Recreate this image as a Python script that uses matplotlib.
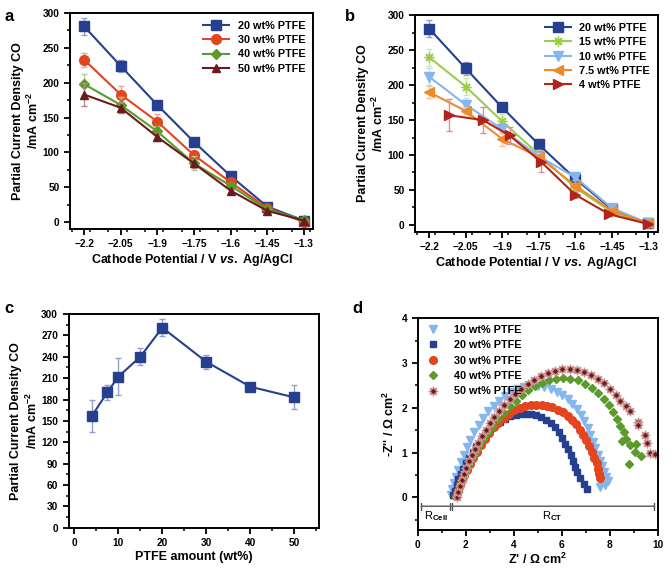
import matplotlib
matplotlib.use('Agg')
import matplotlib.pyplot as plt
from matplotlib.ticker import MultipleLocator
from matplotlib.colors import to_rgb

plt.rcParams['font.family'] = ['Liberation Sans', 'DejaVu Sans']
plt.rcParams['font.weight'] = 'bold'
plt.rcParams['axes.labelweight'] = 'bold'
plt.rcParams['mathtext.fontset'] = 'custom'
plt.rcParams['mathtext.rm'] = 'Liberation Sans:bold'
plt.rcParams['mathtext.it'] = 'Liberation Sans:italic:bold'
plt.rcParams['mathtext.bf'] = 'Liberation Sans:bold'
plt.rcParams['mathtext.sf'] = 'Liberation Sans'

# ---- data: panel a / b (partial current density CO, mA cm-2) ----
potentials = [-2.2, -2.05, -1.9, -1.75, -1.6, -1.45, -1.3]
potential_labels = ['\u22122.2', '\u22122.05', '\u22121.9', '\u22121.75', '\u22121.6', '\u22121.45', '\u22121.3']
pot_4wt = [-2.12, -1.98, -1.87, -1.74, -1.6, -1.46, -1.3]

j_20 = [281, 224, 168, 115, 66, 22, 2]
e_20 = [12, 9, 4, 3, 3, 2, 2]
j_30 = [233, 183, 144, 96, 57, 20, 0]
e_30 = [10, 12, 11, 5, 4, 2, 1]
j_40 = [198, 168, 130, 84, 52, 18, 3]
e_40 = [15, 12, 8, 10, 4, 2, 1]
j_50 = [183, 164, 122, 84, 45, 16, 2]
e_50 = [17, 8, 6, 6, 3, 2, 1]
j_15 = [240, 198, 148, 101, 53, 18, 1]
e_15 = [12, 12, 10, 6, 4, 2, 1]
j_10 = [212, 172, 137, 98, 68, 24, 2]
e_10 = [12, 10, 6, 4, 4, 2, 1]
j_7p5 = [190, 163, 123, 97, 56, 20, 2]
e_7p5 = [9, 5, 10, 6, 4, 2, 1]
j_4 = [157, 150, 128, 90, 43, 15, 1]
e_4 = [23, 19, 12, 15, 4, 2, 1]

# ---- data: panel c ----
ptfe_amount = [4, 7.5, 10, 15, 20, 30, 40, 50]
j_max = [157, 190, 212, 240, 281, 233, 198, 183]
j_max_err = [23, 10, 26, 12, 12, 10, 3, 17]

# ---- data: panel d (Nyquist, Z' and -Z'' in ohm cm2) ----
zr_10 = [1.40, 1.45, 1.52, 1.60, 1.70, 1.80, 1.92, 2.05, 2.20, 2.36, 2.54, 2.74, 2.95, 3.17,
         3.40, 3.64, 3.90, 4.17, 4.45, 4.73, 5.01, 5.28, 5.54, 5.79, 6.03, 6.25, 6.45, 6.63,
         6.80, 6.95, 7.08, 7.20, 7.31, 7.41, 7.50, 7.59, 7.70, 7.78, 7.86, 7.93, 7.82, 7.62]
zi_10 = [0.05, 0.18, 0.32, 0.46, 0.62, 0.78, 0.95, 1.12, 1.29, 1.46, 1.62, 1.78, 1.92, 2.05,
         2.16, 2.26, 2.35, 2.42, 2.47, 2.49, 2.49, 2.46, 2.41, 2.35, 2.28, 2.19, 2.09, 1.97,
         1.84, 1.70, 1.55, 1.40, 1.24, 1.09, 0.95, 0.82, 0.70, 0.57, 0.45, 0.36, 0.27, 0.24]
zr_20 = [1.48, 1.55, 1.62, 1.70, 1.80, 1.90, 2.02, 2.15, 2.30, 2.45, 2.62, 2.80, 3.00, 3.20,
         3.42, 3.64, 3.86, 4.08, 4.30, 4.52, 4.74, 4.95, 5.15, 5.35, 5.55, 5.72, 5.88, 6.02,
         6.15, 6.27, 6.38, 6.48, 6.57, 6.66, 6.78, 6.92, 7.05]
zi_20 = [0.05, 0.15, 0.28, 0.40, 0.52, 0.63, 0.76, 0.88, 1.02, 1.14, 1.26, 1.38, 1.50, 1.60,
         1.69, 1.76, 1.81, 1.84, 1.86, 1.86, 1.85, 1.83, 1.79, 1.73, 1.65, 1.56, 1.45, 1.33,
         1.20, 1.07, 0.94, 0.81, 0.68, 0.56, 0.42, 0.30, 0.18]
zr_30 = [1.60, 1.68, 1.76, 1.85, 1.95, 2.06, 2.18, 2.32, 2.47, 2.63, 2.80, 2.98, 3.17, 3.37,
         3.58, 3.80, 4.02, 4.25, 4.48, 4.71, 4.94, 5.17, 5.40, 5.62, 5.84, 6.05, 6.25, 6.43,
         6.60, 6.75, 6.90, 7.03, 7.15, 7.27, 7.37, 7.46, 7.53, 7.58, 7.62]
zi_30 = [0.03, 0.15, 0.27, 0.38, 0.50, 0.62, 0.75, 0.88, 1.02, 1.16, 1.30, 1.43, 1.56, 1.67,
         1.77, 1.86, 1.94, 2.00, 2.04, 2.06, 2.07, 2.06, 2.04, 2.01, 1.96, 1.90, 1.82, 1.73,
         1.63, 1.51, 1.39, 1.27, 1.14, 1.01, 0.88, 0.76, 0.64, 0.52, 0.44]
zr_40 = [1.60, 1.68, 1.77, 1.87, 1.98, 2.10, 2.24, 2.40, 2.56, 2.74, 2.93, 3.14, 3.36, 3.60,
         3.85, 4.10, 4.36, 4.62, 4.90, 5.18, 5.47, 5.77, 6.07, 6.37, 6.67, 6.97, 7.25, 7.52,
         7.77, 7.98, 8.16, 8.31, 8.45, 8.60, 8.70, 8.52, 8.85, 9.10, 9.05, 9.32, 8.80]
zi_40 = [0.03, 0.15, 0.28, 0.42, 0.56, 0.70, 0.85, 1.00, 1.15, 1.30, 1.45, 1.60, 1.75, 1.89,
         2.03, 2.16, 2.28, 2.39, 2.48, 2.56, 2.62, 2.65, 2.66, 2.65, 2.61, 2.54, 2.44, 2.32,
         2.20, 2.06, 1.91, 1.75, 1.59, 1.45, 1.30, 1.26, 1.16, 1.20, 1.02, 0.93, 0.74]
zr_50 = [1.62, 1.68, 1.75, 1.83, 1.92, 2.02, 2.13, 2.25, 2.38, 2.52, 2.67, 2.83, 3.00, 3.18,
         3.38, 3.60, 3.83, 4.07, 4.32, 4.58, 4.85, 5.13, 5.42, 5.72, 6.02, 6.33, 6.63, 6.93,
         7.22, 7.50, 7.77, 8.02, 8.25, 8.45, 8.70, 8.85, 9.18, 9.18, 9.48, 9.58, 9.68, 9.88]
zi_50 = [0.00, 0.12, 0.25, 0.38, 0.52, 0.66, 0.80, 0.94, 1.08, 1.22, 1.37, 1.51, 1.65, 1.79,
         1.93, 2.06, 2.19, 2.31, 2.42, 2.53, 2.63, 2.71, 2.78, 2.83, 2.86, 2.86, 2.84, 2.80,
         2.73, 2.65, 2.55, 2.43, 2.29, 2.14, 2.04, 1.93, 1.69, 1.61, 1.39, 1.21, 0.98, 0.96]
r_cell = (0.15, 1.35)
r_ct = (1.42, 9.85)

navy = '#26408f'
red = '#e3451f'
green = '#5c9b2b'
maroon = '#6a1b1d'
lgreen = '#9ccc4c'
lblue = '#86b6ee'
orange = '#ef8a2c'
dred = '#b2231c'


def light(c, f=0.5):
    r, g, b = to_rgb(c)
    return (r + (1 - r) * f, g + (1 - g) * f, b + (1 - b) * f)


ylab = 'Partial Current Density CO\n/mA cm$^{-2}$'


def style(ax):
    for s in ax.spines.values():
        s.set_linewidth(1.4)
    ax.tick_params(which='major', direction='out', length=4, width=1.3, labelsize=7.3)
    ax.tick_params(which='minor', direction='out', length=2.3, width=1.1)


def jv_panel(ax, series):
    handles = []
    for x, y, e, c, m, ms, lab in series:
        ax.errorbar(x, y, yerr=e, fmt='none', ecolor=light(c), elinewidth=1, capsize=2.5, capthick=1)
        h, = ax.plot(x, y, color=c, marker=m, ms=ms, lw=1.5, label=lab, mec=c)
        handles.append(h)
    ax.set_xlim(-2.258, -1.262)
    ax.set_ylim(-10, 300)
    ax.set_xticks(potentials)
    ax.set_xticklabels(potential_labels)
    ax.xaxis.set_minor_locator(MultipleLocator(0.075))
    ax.yaxis.set_major_locator(MultipleLocator(50))
    ax.yaxis.set_minor_locator(MultipleLocator(25))
    ax.set_xlabel('Cathode Potential / V $\\mathit{vs.}$ Ag/AgCl', fontsize=9, labelpad=2)
    ax.set_ylabel(ylab, fontsize=9, multialignment='center', labelpad=1)
    style(ax)
    ax.legend(handles=handles, loc='upper right', frameon=False, fontsize=7.8,
              handlelength=2.4, borderaxespad=0.3, labelspacing=0.4)


fig = plt.figure(figsize=(6.72, 5.68), dpi=100)

# a
ax_a = fig.add_axes([0.104, 0.597, 0.362, 0.38])
jv_panel(ax_a, [
    (potentials, j_20, e_20, navy, 's', 6.5, '20 wt% PTFE'),
    (potentials, j_30, e_30, red, 'o', 7, '30 wt% PTFE'),
    (potentials, j_40, e_40, green, 'D', 5.5, '40 wt% PTFE'),
    (potentials, j_50, e_50, maroon, '^', 6, '50 wt% PTFE'),
])

# b
ax_b = fig.add_axes([0.6176, 0.592, 0.361, 0.381])
jv_panel(ax_b, [
    (potentials, j_20, e_20, navy, 's', 6.5, '20 wt% PTFE'),
    (potentials, j_15, e_15, lgreen, (8, 2, 0), 7, '15 wt% PTFE'),
    (potentials, j_10, e_10, lblue, 'v', 6.5, '10 wt% PTFE'),
    (potentials, j_7p5, e_7p5, orange, '<', 6.5, '7.5 wt% PTFE'),
    (pot_4wt, j_4, e_4, dred, '>', 6.5, '4 wt% PTFE'),
])

# c
ax_c = fig.add_axes([0.102, 0.071, 0.372, 0.376])
ax_c.errorbar(ptfe_amount, j_max, yerr=j_max_err, fmt='none', ecolor=light(navy), elinewidth=1,
              capsize=2.5, capthick=1)
ax_c.plot(ptfe_amount, j_max, color=navy, marker='s', ms=7, lw=1.5)
ax_c.set_xlim(-1.3, 55.5)
ax_c.set_ylim(0, 300)
ax_c.xaxis.set_major_locator(MultipleLocator(10))
ax_c.xaxis.set_minor_locator(MultipleLocator(5))
ax_c.yaxis.set_major_locator(MultipleLocator(30))
ax_c.yaxis.set_minor_locator(MultipleLocator(15))
ax_c.set_xlabel('PTFE amount (wt%)', fontsize=9, labelpad=2)
ax_c.set_ylabel(ylab, fontsize=9, multialignment='center', labelpad=1)
style(ax_c)

# d
ax_d = fig.add_axes([0.6215, 0.067, 0.357, 0.3727])
ax_d.plot(zr_10, zi_10, ls='none', marker='v', ms=5.5, color=lblue, mec=lblue, label='10 wt% PTFE')
ax_d.plot(zr_20, zi_20, ls='none', marker='s', ms=5, color=navy, mec=navy, label='20 wt% PTFE')
ax_d.plot(zr_30, zi_30, ls='none', marker='o', ms=5.5, color=red, mec=red, label='30 wt% PTFE')
ax_d.plot(zr_40, zi_40, ls='none', marker='D', ms=4.5, color=green, mec=green, label='40 wt% PTFE')
ax_d.plot(zr_50, zi_50, ls='none', marker=(8, 1, 0), ms=7, color=maroon, mec='#d49a9a', mew=0.8,
          label='50 wt% PTFE')
ax_d.annotate('', xy=(r_cell[1], -0.2), xytext=(r_cell[0], -0.2),
              arrowprops=dict(arrowstyle='|-|, widthA=0.25, widthB=0.25', lw=1, color='#555555',
                              shrinkA=0, shrinkB=0))
ax_d.annotate('', xy=(r_ct[1], -0.2), xytext=(r_ct[0], -0.2),
              arrowprops=dict(arrowstyle='|-|, widthA=0.25, widthB=0.25', lw=1, color='#555555',
                              shrinkA=0, shrinkB=0))
ax_d.text(sum(r_cell) / 2, -0.42, 'R$_\\mathsf{Cell}$', ha='center', va='center', fontsize=8,
          fontweight='normal')
ax_d.text(5.6, -0.42, 'R$_\\mathsf{CT}$', ha='center', va='center', fontsize=8, fontweight='normal')
ax_d.set_xlim(0, 10)
ax_d.set_ylim(-0.73, 4)
ax_d.xaxis.set_major_locator(MultipleLocator(2))
ax_d.xaxis.set_minor_locator(MultipleLocator(1))
ax_d.yaxis.set_major_locator(MultipleLocator(1))
ax_d.yaxis.set_minor_locator(MultipleLocator(0.5))
ax_d.set_xlabel("Z' / \u03a9 cm$^{2}$", fontsize=9, labelpad=1)
ax_d.set_ylabel("-Z'' / \u03a9 cm$^{2}$", fontsize=9, labelpad=3)
style(ax_d)
ax_d.legend(loc='upper left', frameon=False, fontsize=7.8, handletextpad=1.0,
            borderaxespad=0.2, labelspacing=0.5, bbox_to_anchor=(-0.01, 1.0))

for lab, x, y in [('a', 0.006, 0.985), ('b', 0.513, 0.985), ('c', 0.006, 0.47), ('d', 0.524, 0.47)]:
    fig.text(x, y, lab, fontsize=12, fontweight='bold', va='top')

fig.savefig('out.png', dpi=100)
